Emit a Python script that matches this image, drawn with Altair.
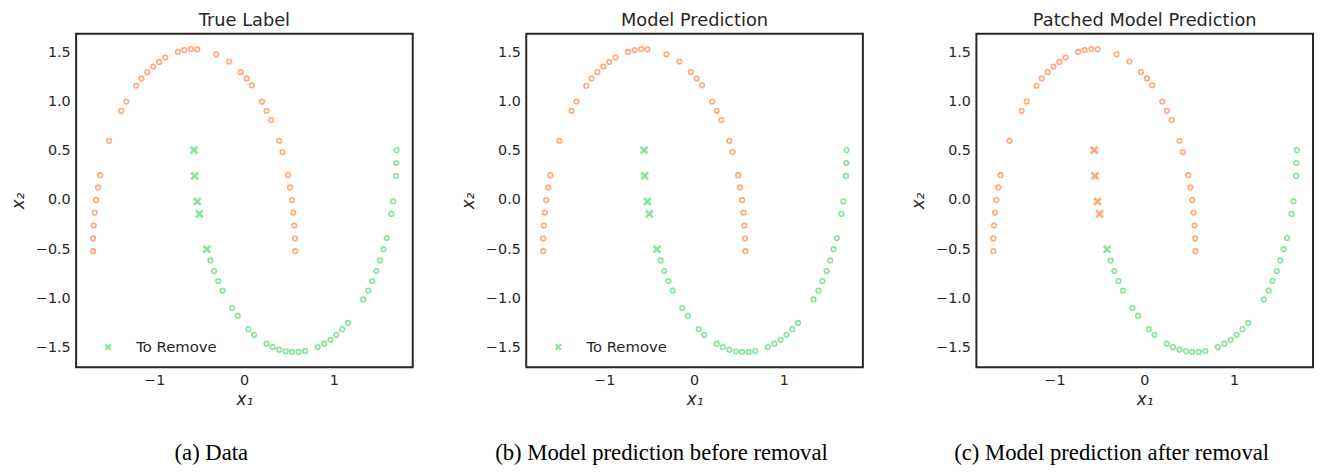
import altair as alt
import pandas as pd

# Upper moon (class 0)
up_x = [-1.681, -1.681, -1.674, -1.663, -1.648, -1.626, -1.601, -1.502, -1.366, -1.311,
        -1.201, -1.143, -1.077, -1.011, -0.945, -0.876, -0.736, -0.663, -0.590, -0.520,
        -0.308, -0.165, -0.037, 0.029, 0.088, 0.201, 0.252, 0.304, 0.392, 0.429,
        0.491, 0.513, 0.535, 0.549, 0.560, 0.568, 0.571]
up_y = [-0.520, -0.390, -0.259, -0.128, 0.000, 0.128, 0.252, 0.601, 0.906, 1.000,
        1.161, 1.235, 1.299, 1.356, 1.403, 1.447, 1.504, 1.524, 1.534, 1.531,
        1.480, 1.407, 1.299, 1.235, 1.165, 1.000, 0.906, 0.812, 0.601, 0.487,
        0.252, 0.128, 0.000, -0.128, -0.259, -0.390, -0.520]

# Lower moon (class 1)
lo_x = [-0.374, -0.333, -0.286, -0.238, -0.132, -0.070, 0.051, 0.113, 0.251, 0.319,
        0.392, 0.465, 0.535, 0.608, 0.681, 0.821, 0.894, 0.963, 1.029, 1.095,
        1.158, 1.330, 1.385, 1.429, 1.476, 1.516, 1.553, 1.590, 1.641, 1.663,
        1.692, 1.696, 1.700]
lo_y = [-0.614, -0.722, -0.823, -0.920, -1.098, -1.175, -1.312, -1.370, -1.460, -1.494,
        -1.521, -1.537, -1.544, -1.544, -1.534, -1.494, -1.460, -1.420, -1.370, -1.312,
        -1.249, -1.010, -0.920, -0.823, -0.722, -0.614, -0.500, -0.386, -0.141, -0.013,
        0.245, 0.376, 0.507]

# Points to remove
rm_x = [-0.557, -0.549, -0.520, -0.498, -0.414]
rm_y = [0.507, 0.245, -0.015, -0.141, -0.500]
rm_cls_panels = [[1, 1, 1, 1, 1], [1, 1, 1, 1, 1], [0, 0, 0, 0, 1]]

titles = ["True Label", "Model Prediction", "Patched Model Prediction"]
captions = ["(a) Data", "(b) Model prediction before removal", "(c) Model prediction after removal"]
show_legend = [True, True, False]

ORANGE = "#FFA878"
GREEN = "#86E39A"
XPATH = "M-1,-1L1,1M1,-1L-1,1"
W, H = 341, 338

moons = pd.DataFrame({
    "x": up_x + lo_x,
    "y": up_y + lo_y,
    "cls": [0] * len(up_x) + [1] * len(lo_x),
})

xs = alt.Scale(domain=[-1.87, 1.88], nice=False, zero=False)
ys = alt.Scale(domain=[-1.70, 1.69], nice=False, zero=False)
cs = alt.Scale(domain=[0, 1], range=[ORANGE, GREEN])

xaxis = alt.Axis(values=[-1, 0, 1], title="x₁", format="d", grid=False, ticks=False,
                 domain=False, labelFontSize=14.5, labelColor="#262626", labelPadding=6,
                 titleFontSize=17, titleFontWeight="normal", titleFontStyle="italic",
                 titleColor="#262626", titlePadding=5, titleFont="DejaVu Sans",
                 labelFont="DejaVu Sans")
yaxis = alt.Axis(values=[-1.5, -1.0, -0.5, 0.0, 0.5, 1.0, 1.5], format=".1f", title="x₂",
                 grid=False, ticks=False, domain=False, labelFontSize=14.5,
                 labelColor="#262626", labelPadding=6, titleFontSize=17,
                 titleFontWeight="normal", titleFontStyle="italic", titleColor="#262626",
                 titlePadding=8, titleFont="DejaVu Sans", labelFont="DejaVu Sans")


def panel(i):
    rm = pd.DataFrame({"x": rm_x, "y": rm_y, "cls": rm_cls_panels[i],
                       "lab": ["To Remove"] * len(rm_x)})
    circ = alt.Chart(moons).mark_point(shape="circle", filled=False, size=22,
                                        strokeWidth=1.6, opacity=1).encode(
        x=alt.X("x:Q", scale=xs, axis=xaxis),
        y=alt.Y("y:Q", scale=ys, axis=yaxis),
        color=alt.Color("cls:O", scale=cs, legend=None),
    )
    if show_legend[i]:
        leg = alt.Legend(title=None, orient="none", legendX=25, legendY=310, padding=0,
                         labelFontSize=15, labelColor="#262626", labelFont="DejaVu Sans",
                         labelOffset=21, symbolStrokeColor=GREEN, symbolStrokeWidth=2.2,
                         symbolSize=30, symbolFillColor="transparent")
    else:
        leg = None
    cross = alt.Chart(rm).mark_point(filled=False, size=48, strokeWidth=2.6, opacity=1).encode(
        x=alt.X("x:Q", scale=xs, axis=xaxis),
        y=alt.Y("y:Q", scale=ys, axis=yaxis),
        color=alt.Color("cls:O", scale=cs, legend=None),
        shape=alt.Shape("lab:N", scale=alt.Scale(domain=["To Remove"], range=[XPATH]), legend=leg),
    )
    cap = alt.Chart(pd.DataFrame({"t": [captions[i]]})).mark_text(
        font="Liberation Serif", fontSize=23, color="#000000", baseline="middle", align="center"
    ).encode(text="t:N", x=alt.value(137), y=alt.value(425))
    return alt.layer(circ, cross, cap).properties(
        width=W, height=H,
        title=alt.TitleParams(titles[i], fontSize=18, fontWeight="normal", color="#262626",
                              font="DejaVu Sans", offset=4),
    )


chart = alt.hconcat(panel(0), panel(1), panel(2), spacing=45).resolve_scale(
    color="independent", shape="independent"
).resolve_legend(shape="independent").configure(
    padding=0, background="white"
).configure_view(
    stroke="#262626", strokeWidth=2
)

chart.save("out.html", embed_options={"renderer": "svg", "actions": False})
